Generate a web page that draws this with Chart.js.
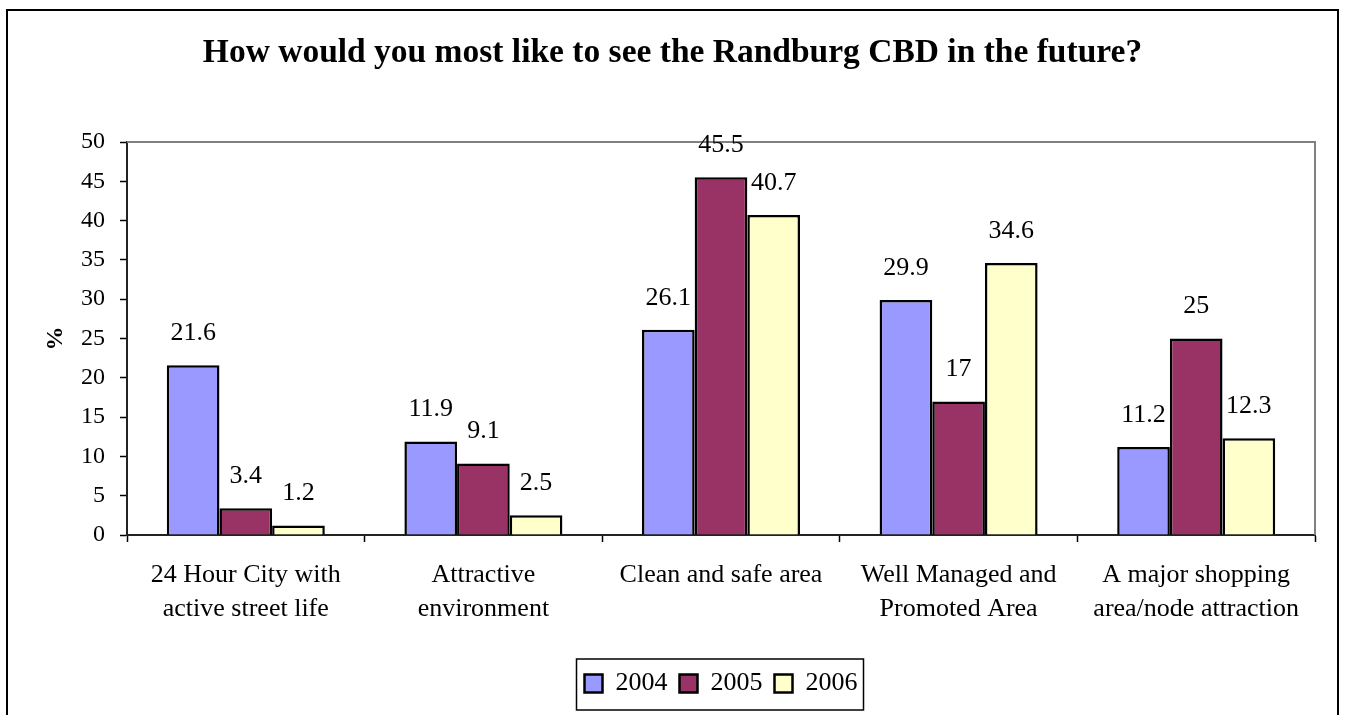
<!DOCTYPE html>
<html>
<head>
<meta charset="utf-8">
<script src="https://cdn.jsdelivr.net/npm/chart.js@4.4.1/dist/chart.umd.min.js"></script>
<style>
  html, body { margin: 0; padding: 0; background: #fff; overflow: hidden; }
  #wrap { position: relative; width: 1345px; height: 715px; }
  #frame {
    position: absolute; left: 6px; top: 9px; width: 1329px; height: 800px;
    border: 2px solid #000; border-bottom: none;
  }
  canvas { position: absolute; left: 0; top: 0; }
</style>
</head>
<body>
<div id="wrap">
  <div id="frame"></div>
  <canvas id="cbd_chart" width="1345" height="715"></canvas>
</div>
<script>
// data
const CATEGORIES = [
  ["24 Hour City with", "active street life"],
  ["Attractive", "environment"],
  ["Clean and safe area"],
  ["Well Managed and", "Promoted Area"],
  ["A major shopping", "area/node attraction"],
];
const SERIES_NAMES = ["2004", "2005", "2006"];
const VALUES_2004 = [21.6, 11.9, 26.1, 29.9, 11.2];
const VALUES_2005 = [3.4, 9.1, 45.5, 17, 25];
const VALUES_2006 = [1.2, 2.5, 40.7, 34.6, 12.3];
const Y_TICKS = [0, 5, 10, 15, 20, 25, 30, 35, 40, 45, 50];

const SERIF = "'Liberation Serif', 'Times New Roman', serif";
const COLORS = ["#9999FF", "#993366", "#FFFFCC"];

// value labels above each bar
const barLabels = {
  id: "barLabels",
  afterDatasetsDraw(chart) {
    const c = chart.ctx;
    c.save();
    c.font = `26px ${SERIF}`;
    c.fillStyle = "#000";
    c.textAlign = "center";
    c.textBaseline = "middle";
    chart.data.datasets.forEach((ds, i) => {
      chart.getDatasetMeta(i).data.forEach((bar, j) => {
        c.fillText(String(ds.data[j]), bar.x, bar.y - 32);
      });
    });
    c.restore();
  },
};

// grey top/right plot border + box around the legend
const frames = {
  id: "frames",
  beforeDatasetsDraw(chart) {
    const { left, right, top, bottom } = chart.chartArea;
    const c = chart.ctx;
    c.save();
    c.strokeStyle = "#808080";
    c.lineWidth = 2;
    c.beginPath();
    c.moveTo(left, top);
    c.lineTo(right, top);
    c.lineTo(right, bottom);
    c.stroke();
    c.restore();
  },
  afterDraw(chart) {
    const hb = chart.legend && chart.legend.legendHitBoxes;
    if (!hb || !hb.length) return;
    const last = hb[hb.length - 1];
    const cy = hb[0].top + hb[0].height / 2;
    const x0 = hb[0].left - 8;
    const x1 = last.left + last.width + 6;
    const c = chart.ctx;
    c.save();
    c.strokeStyle = "#000";
    c.lineWidth = 1.5;
    c.strokeRect(x0, cy - 24.5, x1 - x0, 51);
    c.restore();
  },
};

const ctx = document.getElementById("cbd_chart").getContext("2d");
const yearData = [VALUES_2004, VALUES_2005, VALUES_2006];

window.cbd_chart_instance = new Chart(ctx, {
  type: "bar",
  data: {
    labels: CATEGORIES,
    datasets: SERIES_NAMES.map((name, i) => ({
      label: name,
      data: yearData[i],
      backgroundColor: COLORS[i],
      borderColor: "#000",
      borderWidth: 2.5,
      barPercentage: 1,
      categoryPercentage: 0.665,
    })),
  },
  options: {
    responsive: false,
    animation: false,
    layout: { padding: { left: 30, right: 30, top: 0, bottom: 8.5 } },
    plugins: {
      title: {
        display: true,
        text: "How would you most like to see the Randburg CBD in the future?",
        color: "#000",
        font: { family: SERIF, size: 33.5, weight: "bold", lineHeight: 1.2 },
        padding: { top: 33.5, bottom: 68.3 },
      },
      legend: {
        position: "bottom",
        fullSize: false,
        labels: {
          color: "#000",
          boxWidth: 18,
          boxHeight: 18,
          padding: 12,
          font: { family: SERIF, size: 26 },
        },
      },
      tooltip: { enabled: false },
    },
    scales: {
      x: {
        grid: { display: true, drawOnChartArea: false, drawTicks: true, tickLength: 7, tickColor: "#000", tickWidth: 1.5, offset: true },
        border: { display: true, color: "#222", width: 2 },
        ticks: { color: "#000", padding: 16, maxRotation: 0, autoSkip: false, font: { family: SERIF, size: 26, lineHeight: 1.31 } },
        afterFit: (s) => { s.height = 123.5; },
      },
      y: {
        min: 0,
        max: 50,
        afterBuildTicks: (s) => { s.ticks = Y_TICKS.map((v) => ({ value: v })); },
        grid: { display: true, drawOnChartArea: false, drawTicks: true, tickLength: 7, tickColor: "#000", tickWidth: 1.5 },
        border: { display: true, color: "#222", width: 2 },
        ticks: { color: "#000", padding: 15, font: { family: SERIF, size: 24 } },
        title: {
          display: true,
          text: "%",
          color: "#000",
          font: { family: SERIF, size: 24, weight: "bold", lineHeight: 1.2 },
          padding: { top: 11.6, bottom: 0 },
        },
        afterFit: (s) => { s.width = 97; },
      },
    },
  },
  plugins: [barLabels, frames],
});
</script>
</body>
</html>
